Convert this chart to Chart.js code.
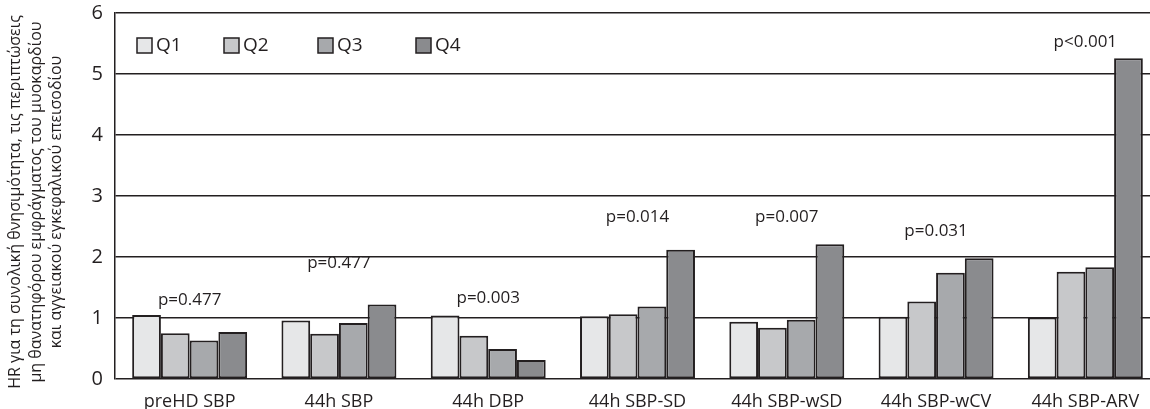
<!DOCTYPE html>
<html>
<head>
<meta charset="utf-8">
<script src="https://cdn.jsdelivr.net/npm/chart.js@4/dist/chart.umd.min.js"></script>
<style>
html,body{margin:0;padding:0;background:#fff;overflow:hidden;width:1150px;height:409px;}
#wrap{width:1162px;height:409px;}
</style>
</head>
<body>
<div id="wrap"><canvas id="c" width="1162" height="409"></canvas></div>
<script>
const categories = ['preHD SBP','44h SBP','44h DBP','44h SBP-SD','44h SBP-wSD','44h SBP-wCV','44h SBP-ARV'];
const seriesNames = ['Q1','Q2','Q3','Q4'];
const q1 = [1.05, 0.96, 1.04, 1.03, 0.94, 1.02, 1.01];
const q2 = [0.75, 0.74, 0.71, 1.06, 0.84, 1.27, 1.76];
const q3 = [0.63, 0.92, 0.49, 1.19, 0.97, 1.74, 1.83];
const q4 = [0.77, 1.22, 0.31, 2.12, 2.21, 1.98, 5.26];
const pValues = ['p=0.477','p=0.477','p=0.003','p=0.014','p=0.007','p=0.031','p<0.001'];
const pLabelY = [1.30, 1.90, 1.33, 2.66, 2.66, 2.43, 5.52];
const yTicks = [0,1,2,3,4,5,6];
const yTitle = ['HR για τη συνολική θνησιμότητα, τις περιπτώσεις','μη θανατηφόρου εμφράγματος του μυοκαρδίου','και αγγειακού εγκεφαλικού επεισοδίου'];

const colors = ['#e6e7e8','#c7c8ca','#a7a9ac','#8a8b8e'];
const ink = '#231f20';
const FONT = '"Open Sans", "Noto Sans", sans-serif';

const allSeries = [q1,q2,q3,q4];
const datasets = allSeries.map((d,i)=>({
  label: seriesNames[i], data: d, backgroundColor: colors[i],
  borderColor: ink, borderWidth: 2, borderSkipped: false,
  categoryPercentage: 0.77, barPercentage: 1.0
}));

const extras = {
  id: 'extras',
  afterDatasetsDraw(chart){
    const ctx = chart.ctx, x = chart.scales.x, y = chart.scales.y;
    ctx.save();
    ctx.fillStyle = ink;
    ctx.font = '17px ' + FONT;
    ctx.textAlign = 'center'; ctx.textBaseline = 'middle';
    pValues.forEach((t,i)=>{ ctx.fillText(t, x.getPixelForValue(i), y.getPixelForValue(pLabelY[i])); });
    // legend
    const lx = [137, 224, 318, 416];
    ctx.textAlign = 'left';
    ctx.font = '19px ' + FONT;
    seriesNames.forEach((n,i)=>{
      ctx.fillStyle = colors[i];
      ctx.fillRect(lx[i], 38, 15, 15);
      ctx.strokeStyle = ink; ctx.lineWidth = 1.5;
      ctx.strokeRect(lx[i], 38, 15, 15);
      ctx.fillStyle = ink;
      ctx.fillText(n, lx[i]+19, 46);
    });
    // y title
    ctx.save();
    ctx.translate(0, 202);
    ctx.rotate(-Math.PI/2);
    ctx.textAlign = 'center';
    ctx.font = '16px ' + FONT;
    ctx.fillStyle = ink;
    const xs = [15, 36, 56];
    yTitle.forEach((t,i)=>{ ctx.fillText(t, 0, xs[i]); });
    ctx.restore();
    ctx.restore();
  }
};

new Chart(document.getElementById('c'), {
  type: 'bar',
  data: { labels: categories, datasets },
  options: {
    responsive: false, animation: false,
    layout: { autoPadding: false, padding: { top: 13, right: 2, left: 0, bottom: 0 } },
    plugins: { legend: { display: false }, tooltip: { enabled: false } },
    scales: {
      x: {
        grid: { display: false }, border: { display: false },
        ticks: { color: ink, font: { size: 18, family: FONT }, padding: 4, maxRotation: 0, autoSkip: false },
        afterFit(s){ s.height = 30; s.paddingLeft = 0; s.paddingRight = 0; }
      },
      y: {
        min: 0, max: 6,
        afterBuildTicks(s){ s.ticks = yTicks.map(v=>({value:v})); },
        grid: { color: ink, lineWidth: 1.5, drawTicks: false },
        border: { color: ink, width: 1.5 },
        ticks: { color: ink, font: { size: 20, family: FONT }, padding: 12 },
        afterFit(s){ s.width = 115; s.paddingTop = 0; s.paddingBottom = 0; }
      }
    }
  },
  plugins: [extras]
});
</script>
</body>
</html>
